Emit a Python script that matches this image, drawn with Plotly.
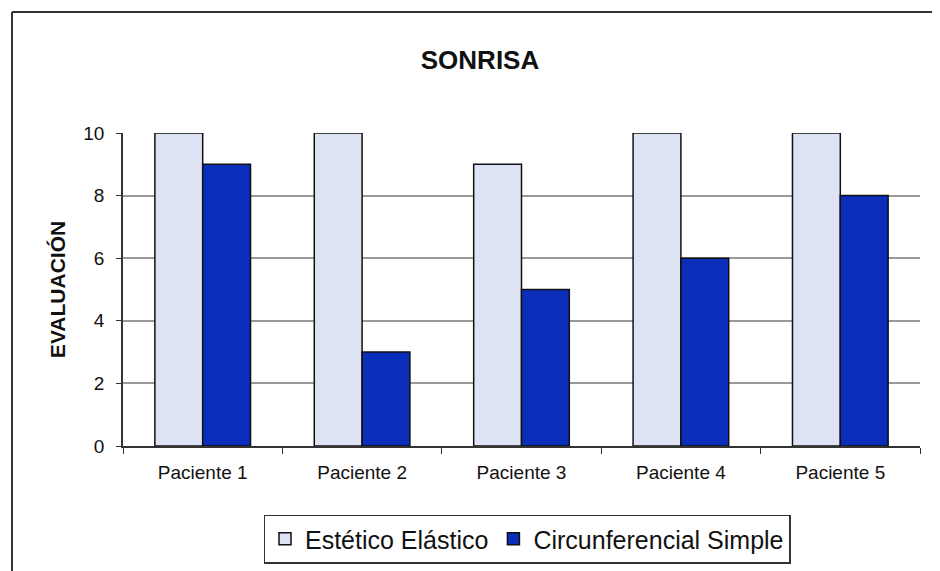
import plotly.graph_objects as go

categories = ["Paciente 1", "Paciente 2", "Paciente 3", "Paciente 4", "Paciente 5"]
estetico = [10, 10, 9, 10, 10]
circunferencial = [9, 3, 5, 6, 8]
y_ticks = [0, 2, 4, 6, 8, 10]

fig = go.Figure()
fig.add_trace(go.Bar(x=categories, y=estetico, name="Estético Elástico",
                     marker=dict(color="#DDE3F3", line=dict(color="#111111", width=1.5))))
fig.add_trace(go.Bar(x=categories, y=circunferencial, name="Circunferencial Simple",
                     marker=dict(color="#0A2DBA", line=dict(color="#111111", width=1.5))))

W, H = 940, 571
O = 8  # page body offset
L, R, T, B = 123 - O, 28, 133 - O, H - (446 - O)
pw, ph = W - L - R, H - T - B

def px(x):
    return (x - O - L) / pw

def py(y):
    return (H - B - (y - O)) / ph

fig.update_layout(
    width=W, height=H,
    margin=dict(l=L, r=R, t=T, b=B),
    paper_bgcolor="white", plot_bgcolor="white",
    font=dict(family="Liberation Sans, Arial", color="#111111"),
    barmode="group", bargap=0.4, bargroupgap=0,
    title=dict(text="<b>SONRISA</b>", x=(480 - O) / W, xanchor="center",
               y=1 - (60 - O) / H, yanchor="middle", font=dict(size=26)),
    xaxis=dict(showline=True, linecolor="#333333", linewidth=1.5,
               ticks="outside", ticklen=6, tickcolor="#333333",
               tickson="boundaries", tickfont=dict(size=19), showgrid=False,
               ticklabelstandoff=8),
    yaxis=dict(range=[0, 10], tickvals=y_ticks, showline=True, linecolor="#333333",
               linewidth=1.5, ticks="outside", ticklen=5, tickcolor="#333333",
               showgrid=True, gridcolor="#999999", gridwidth=1.5,
               tickfont=dict(size=19), zeroline=False, ticklabelstandoff=8,
               title=dict(text="<b>EVALUACIÓN</b>", font=dict(size=21), standoff=12)),
    legend=dict(orientation="h", x=px(527), xanchor="center", y=py(539), yanchor="middle",
                bordercolor="#333333", borderwidth=1.5, font=dict(size=25),
                itemwidth=30, tracegroupgap=0),
    showlegend=True,
)

# outer chart frame
fig.add_shape(type="line", xref="paper", yref="paper", x0=px(12), x1=px(940), y0=py(12), y1=py(12),
              line=dict(color="#333333", width=2))
fig.add_shape(type="line", xref="paper", yref="paper", x0=px(12), x1=px(12), y0=py(12), y1=py(580),
              line=dict(color="#333333", width=2))

fig.write_html("out.html")
